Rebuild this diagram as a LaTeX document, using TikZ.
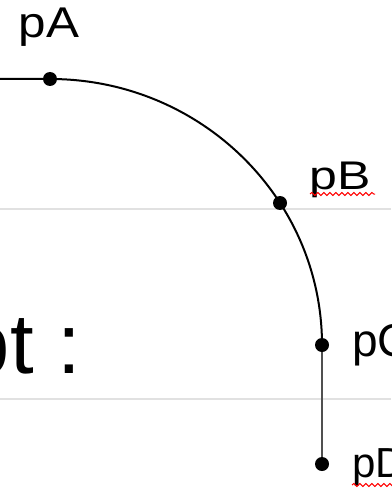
\documentclass[tikz,border=0pt]{standalone}
\usepackage{fontspec}
\setmainfont{Liberation Sans}
\usetikzlibrary{decorations.pathmorphing}
\definecolor{rulegray}{RGB}{225,225,225}
\definecolor{stemgray}{RGB}{80,80,80}
\tikzset{
  pt/.style={circle,fill=black,inner sep=0pt,minimum size=14pt},
  lbl/.style={anchor=base west,inner sep=0pt},
  curve/.style={line width=2pt,black},
  rule/.style={line width=1.5pt,rulegray},
  squiggle/.style={red,line width=1pt,decorate,decoration={snake,segment length=6pt,amplitude=1.5pt}}
}
\begin{document}
\begin{tikzpicture}[x=1pt,y=-1pt]
\useasboundingbox (0,0) rectangle (391,489);
% light rules
\coordinate (r1l) at (0,209); \coordinate (r1r) at (391,209);
\coordinate (r2l) at (0,399); \coordinate (r2r) at (391,399);
\draw[rule] (r1l) -- (r1r);
\draw[rule] (r2l) -- (r2r);
% big text
\node[anchor=base west,inner sep=0pt,font=\fontsize{85}{90}\selectfont] (txt) at (-37.3,373) {pt :};
% points
\coordinate (start) at (0,79);
\coordinate (A) at (50,79);
\coordinate (C) at (322,345);
\coordinate (D) at (322,464);
\draw[curve] (start) -- (A) arc[start angle=90,end angle=0,x radius=272,y radius=-266];
\draw[line width=2.5pt,stemgray] (C) -- (D);
\node[pt] (pA) at (A) {};
\node[pt] (pB) at (280,203) {};
\node[pt] (pC) at (C) {};
\node[pt] (pD) at (D) {};
% labels
\node[lbl,font=\fontsize{43}{48}\selectfont] (lA) at (18.5,38) {\scalebox{1.15}[1]{pA}};
\node[lbl,font=\fontsize{40}{46}\selectfont] (lB) at (309.5,189) {\scalebox{1.25}[1]{pB}};
\node[lbl,font=\fontsize{46}{52}\selectfont] (lC) at (352,356) {pC};
\node[lbl,font=\fontsize{42}{48}\selectfont] (lD) at (352.2,477) {pD};
\coordinate (sB1) at (310,194); \coordinate (sB2) at (375,194);
\coordinate (sD1) at (352,485); \coordinate (sD2) at (395,485);
\draw[squiggle] (sB1) -- (sB2);
\draw[squiggle] (sD1) -- (sD2);
\end{tikzpicture}
\end{document}
